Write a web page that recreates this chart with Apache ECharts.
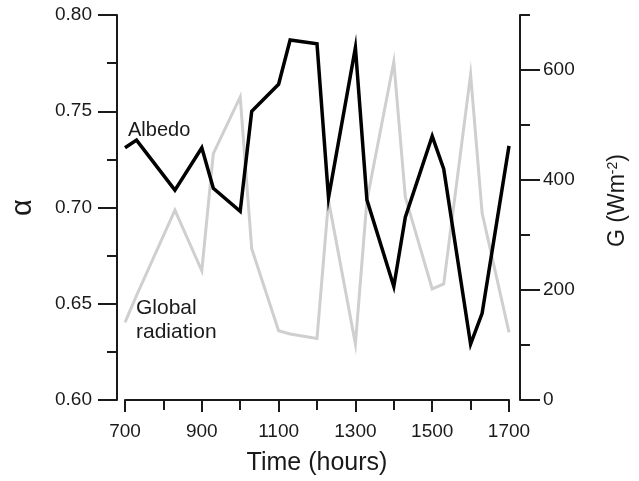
<!DOCTYPE html>
<html>
<head>
<meta charset="utf-8">
<script src="https://cdn.jsdelivr.net/npm/echarts@6/dist/echarts.min.js"></script>
<style>
html,body{margin:0;padding:0;background:#fff;}
#chart{width:639px;height:481px;}
</style>
</head>
<body>
<div id="chart"></div>
<script>
// Time of observation (hours, HHMM)
const times = [700, 730, 830, 900, 930, 1000, 1030, 1100, 1130, 1200, 1230, 1300, 1330, 1400, 1430, 1500, 1530, 1600, 1630, 1700];
// Albedo (alpha), left axis
const albedo = [0.731, 0.735, 0.709, 0.731, 0.710, 0.698, 0.750, 0.764, 0.787, 0.785, 0.705, 0.783, 0.704, 0.659, 0.695, 0.737, 0.720, 0.629, 0.645, 0.732];
// Global radiation G (W m-2), right axis
const radiation = [141, 190, 345, 235, 448, 551, 275, 126, 120, 112, 363, 102, 363, 615, 369, 202, 211, 592, 340, 123];
// Tick values
const gTicks = [0, 200, 400, 600];

const font = 'Liberation Sans';
const ink = '#1a1a1a';

const chart = echarts.init(document.getElementById('chart'), null, {renderer: 'canvas'});

const albedoData = times.map((t, i) => [t, albedo[i]]);
const radData = times.map((t, i) => [t, radiation[i]]);

chart.setOption({
  animation: false,
  backgroundColor: '#ffffff',
  grid: {left: 122, right: 130, top: 15, bottom: 81, containLabel: false},
  xAxis: {
    type: 'value', min: 700, max: 1700, interval: 200,
    name: 'Time (hours)', nameLocation: 'middle', nameGap: 51,
    nameTextStyle: {fontFamily: font, fontSize: 25, color: ink},
    axisLine: {show: true, lineStyle: {color: ink, width: 2}},
    axisTick: {show: true, length: 12, lineStyle: {color: ink, width: 2}},
    minorTick: {show: true, splitNumber: 2, length: 10, lineStyle: {color: ink, width: 2}},
    axisLabel: {fontFamily: font, fontSize: 19, color: ink, margin: 22, formatter: v => String(v)},
    splitLine: {show: false}, minorSplitLine: {show: false}
  },
  yAxis: [
    {
      type: 'value', position: 'left', offset: 8, min: 0.6, max: 0.8, interval: 0.05,
      name: 'α', nameLocation: 'middle', nameGap: 80,
      nameTextStyle: {fontFamily: font, fontSize: 29, color: ink},
      axisLine: {show: true, lineStyle: {color: ink, width: 2}},
      axisTick: {show: true, length: 19, lineStyle: {color: ink, width: 2}},
      minorTick: {show: true, splitNumber: 2, length: 10, lineStyle: {color: ink, width: 2}},
      axisLabel: {fontFamily: font, fontSize: 19, color: ink, margin: 25, formatter: v => v.toFixed(2)},
      splitLine: {show: false}, minorSplitLine: {show: false}
    },
    {
      type: 'value', position: 'right', offset: 11, min: 0, max: 700, interval: 100,
      axisLine: {show: true, lineStyle: {color: ink, width: 2}},
      axisTick: {show: true, length: 10, lineStyle: {color: ink, width: 2}},
      axisLabel: {show: false},
      splitLine: {show: false}
    },
    {
      type: 'value', position: 'right', offset: 11, min: 0, max: 700, interval: 100,
      name: 'G (Wm{sup|-2})', nameLocation: 'middle', nameGap: 86,
      nameTextStyle: {fontFamily: font, fontSize: 23, color: ink, padding: [0, 0, 0, 14],
        rich: {sup: {fontFamily: font, fontSize: 14, color: ink, verticalAlign: 'top', lineHeight: 14, padding: [0, 0, 10, 0]}}},
      axisLine: {show: false},
      axisTick: {show: true, length: 20, customValues: gTicks, lineStyle: {color: ink, width: 2}},
      axisLabel: {show: true, customValues: gTicks, fontFamily: font, fontSize: 19, color: ink, margin: 23},
      splitLine: {show: false}
    }
  ],
  graphic: [
    {type: 'text', left: 128, top: 120, style: {text: 'Albedo', font: '20px "Liberation Sans"', fill: ink}},
    {type: 'text', left: 136, top: 296, style: {text: 'Global\nradiation', font: '21px "Liberation Sans"', fill: ink, lineHeight: 24}}
  ],
  series: [
    {
      name: 'Global radiation', type: 'line', xAxisIndex: 0, yAxisIndex: 1,
      data: radData, showSymbol: false, symbol: 'none',
      lineStyle: {color: '#cfcfcf', width: 3, join: 'miter'}, z: 2
    },
    {
      name: 'Albedo', type: 'line', xAxisIndex: 0, yAxisIndex: 0,
      data: albedoData, showSymbol: false, symbol: 'none',
      lineStyle: {color: '#000000', width: 3.5, join: 'miter'}, z: 3
    }
  ]
});
</script>
</body>
</html>
